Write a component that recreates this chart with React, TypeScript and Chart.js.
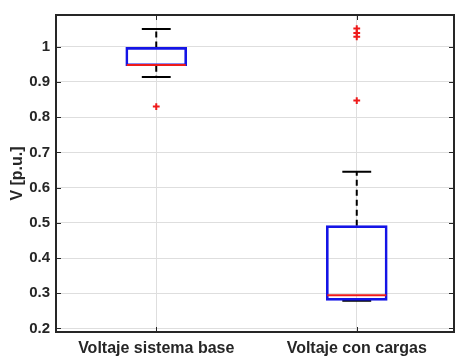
import React, { useEffect, useRef } from "react";
import { Chart, registerables } from "chart.js";

Chart.register(...registerables);

// ---- data ----
const categories = ["Voltaje sistema base", "Voltaje con cargas"];
const positions = [1, 2];
const q1 = [0.946, 0.28];
const q3 = [0.998, 0.492];
const medians = [0.948, 0.2944];
const upperWhisker = [1.0506, 0.645];
const lowerWhisker = [0.914, 0.279];
const outlierGroup = [1, 2, 2, 2, 2];
const outlierValues = [0.83, 1.0514, 1.039, 1.028, 0.847];
const yTicks = [0.2, 0.3, 0.4, 0.5, 0.6, 0.7, 0.8, 0.9, 1.0];
const yMin = 0.19;
const yMax = 1.09;
const yTitle = "V [p.u.]";

const BLUE = "#1414e6";
const RED = "#ee1a1a";
const AXIS = "#262626";
const GRID = "#dedede";
const FONT = "'Liberation Sans', Arial, sans-serif";
const BOX_PX = 61;
const CAP_HALF = 0.072; // in x-axis units

const boxPlugin = {
  id: "boxParts",
  beforeDatasetsDraw(chart: any) {
    const { ctx, scales } = chart;
    const x = scales.x;
    const y = scales.y;
    ctx.save();
    ctx.strokeStyle = "#000";
    ctx.lineWidth = 2;
    positions.forEach((p, i) => {
      const cx = x.getPixelForValue(p);
      const ch = x.getPixelForValue(p + CAP_HALF) - cx;
      ctx.setLineDash([6, 4]);
      ctx.beginPath();
      ctx.moveTo(cx, y.getPixelForValue(q3[i]));
      ctx.lineTo(cx, y.getPixelForValue(upperWhisker[i]));
      ctx.moveTo(cx, y.getPixelForValue(q1[i]));
      ctx.lineTo(cx, y.getPixelForValue(lowerWhisker[i]));
      ctx.stroke();
      ctx.setLineDash([]);
      ctx.beginPath();
      const yu = y.getPixelForValue(upperWhisker[i]);
      const yl = y.getPixelForValue(lowerWhisker[i]);
      ctx.moveTo(cx - ch, yu);
      ctx.lineTo(cx + ch, yu);
      ctx.moveTo(cx - ch, yl);
      ctx.lineTo(cx + ch, yl);
      ctx.stroke();
    });
    ctx.restore();
  },
  afterDatasetsDraw(chart: any) {
    const { ctx, scales } = chart;
    const x = scales.x;
    const y = scales.y;
    ctx.save();
    ctx.strokeStyle = RED;
    ctx.lineWidth = 2;
    positions.forEach((p, i) => {
      const cx = x.getPixelForValue(p);
      const ym = y.getPixelForValue(medians[i]);
      ctx.beginPath();
      ctx.moveTo(cx - BOX_PX / 2 + 1, ym);
      ctx.lineTo(cx + BOX_PX / 2 - 1, ym);
      ctx.stroke();
    });
    ctx.restore();
  },
  afterDraw(chart: any) {
    const { ctx, chartArea, scales } = chart;
    const { left, right, top, bottom } = chartArea;
    ctx.save();
    ctx.strokeStyle = AXIS;
    ctx.lineWidth = 1;
    const tl = 5;
    ctx.beginPath();
    yTicks.forEach((v) => {
      const py = Math.round(scales.y.getPixelForValue(v)) + 0.5;
      ctx.moveTo(left, py);
      ctx.lineTo(left + tl, py);
      ctx.moveTo(right, py);
      ctx.lineTo(right - tl, py);
    });
    positions.forEach((p) => {
      const px = Math.round(scales.x.getPixelForValue(p)) + 0.5;
      ctx.moveTo(px, bottom);
      ctx.lineTo(px, bottom - tl);
      ctx.moveTo(px, top);
      ctx.lineTo(px, top + tl);
    });
    ctx.stroke();
    ctx.lineWidth = 2;
    ctx.strokeRect(left, top, right - left, bottom - top);
    ctx.restore();
  },
};

export default function App() {
  const ref = useRef<HTMLCanvasElement | null>(null);
  useEffect(() => {
    document.body.style.margin = "0";
    const canvas = ref.current;
    if (!canvas) return;
    const chart = new Chart(canvas, {
      type: "bar",
      data: {
        datasets: [
          {
            type: "bar",
            data: positions.map((p, i) => ({ x: p, y: [q1[i], q3[i]] })) as any,
            backgroundColor: "rgba(0,0,0,0)",
            borderColor: BLUE,
            borderWidth: 2,
            borderSkipped: false,
            barThickness: BOX_PX,
            grouped: false,
          } as any,
          {
            type: "scatter",
            data: outlierValues.map((v, i) => ({ x: outlierGroup[i], y: v })),
            pointStyle: "cross",
            pointRadius: 3.4,
            borderColor: RED,
            backgroundColor: RED,
            borderWidth: 2,
          } as any,
        ],
      },
      plugins: [boxPlugin],
      options: {
        responsive: false,
        animation: false,
        devicePixelRatio: 1,
        layout: { padding: { top: 11, right: 1, left: 0, bottom: 0 } },
        plugins: { legend: { display: false }, tooltip: { enabled: false } },
        scales: {
          x: {
            type: "linear",
            min: 0.5,
            max: 2.485,
            offset: false,
            afterBuildTicks: (s: any) => {
              s.ticks = positions.map((p) => ({ value: p }));
            },
            afterFit: (s: any) => {
              s.height = 24;
            },
            ticks: {
              autoSkip: false,
              maxRotation: 0,
              padding: 7,
              color: AXIS,
              font: { family: FONT, size: 16, weight: "bold" },
              callback: (v: any) => categories[Math.round(Number(v)) - 1] ?? "",
            },
            grid: { color: GRID, lineWidth: 1, drawTicks: false, offset: false },
            border: { display: false },
          },
          y: {
            type: "linear",
            min: yMin,
            max: yMax,
            afterBuildTicks: (s: any) => {
              s.ticks = yTicks.map((v) => ({ value: v }));
            },
            afterFit: (s: any) => {
              s.width = 56;
            },
            ticks: {
              padding: 6,
              color: AXIS,
              font: { family: FONT, size: 15, weight: "bold" },
              callback: (v: any) => String(Number(Number(v).toFixed(1))),
            },
            grid: { color: GRID, lineWidth: 1, drawTicks: false },
            border: { display: false },
            title: {
              display: true,
              text: yTitle,
              color: AXIS,
              font: { family: FONT, size: 16, weight: "bold" },
              padding: { top: 8, bottom: 0 },
            },
          },
        },
      } as any,
    });
    return () => chart.destroy();
  }, []);
  return (
    <div style={{ position: "fixed", left: 0, top: 0, width: 460, height: 356, background: "#fff" }}>
      <canvas ref={ref} width={460} height={356} />
    </div>
  );
}
